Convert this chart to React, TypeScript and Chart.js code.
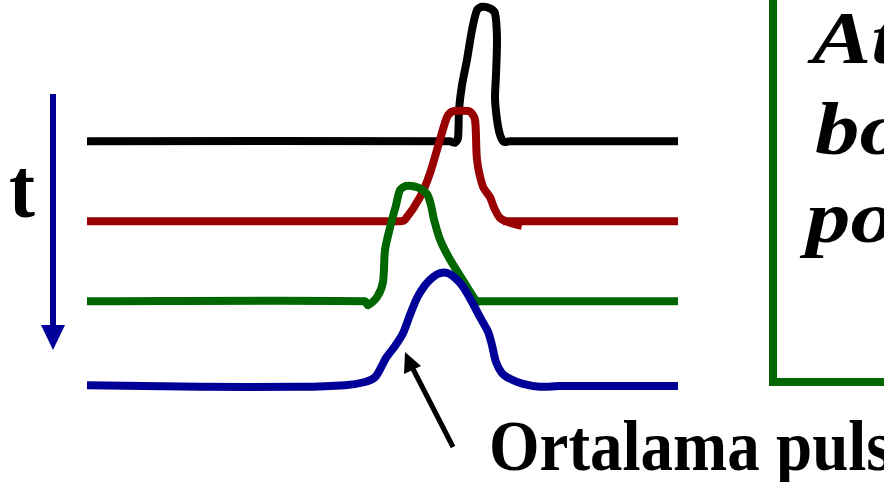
import React, { useEffect, useRef } from "react";
import { Chart, registerables } from "chart.js";

Chart.register(...registerables);

// time axis samples and trace levels (baseline offset of each trace + pulse)
const blackX = [87, 450, 455, 458, 459, 462, 467, 472, 477, 482, 490, 495, 497, 496, 495, 497, 500, 504, 510, 678];
const blackY = [3.06, 3.06, 3.04, 3.1, 3.45, 3.76, 4.08, 4.45, 4.7, 4.74, 4.72, 4.66, 4.33, 3.89, 3.6, 3.33, 3.14, 3.05, 3.06, 3.06];

const redX = [87, 400, 405, 420, 430, 440, 447, 452, 460, 470, 475, 477, 483, 490, 494, 500, 510, 522, NaN, 503, 678];
const redY = [2.06, 2.06, 2.08, 2.36, 2.66, 3.08, 3.36, 3.43, 3.44, 3.43, 3.33, 2.83, 2.49, 2.36, 2.23, 2.1, 2.04, 2.0, null, 2.06, 2.06];

const greenX = [87, 365, 368, 377, 383, 385, 390, 396, 400, 406, 418, 427, 431, 434, 440, 450, 467, 477, 480, 678];
const greenY = [1.06, 1.06, 1.01, 1.11, 1.3, 1.7, 1.98, 2.26, 2.45, 2.5, 2.48, 2.4, 2.26, 2.08, 1.83, 1.58, 1.24, 1.05, 1.06, 1.06];

const blueX = [87, 200, 300, 345, 365, 375, 381, 386, 395, 403, 410, 417, 425, 433, 440, 448, 456, 463, 472, 480, 488, 492, 496, 502, 510, 522, 540, 560, 678];
const blueY = [0.01, -0.01, -0.01, 0.01, 0.05, 0.11, 0.23, 0.35, 0.5, 0.66, 0.89, 1.1, 1.26, 1.36, 1.41, 1.41, 1.34, 1.24, 1.05, 0.86, 0.68, 0.51, 0.3, 0.16, 0.09, 0.03, -0.01, 0, 0];

const boxLines = ["At", "bo", "po"];
const timeLabel = "t";
const pulseLabel = "Ortalama puls";

const toPts = (xs: number[], ys: (number | null)[]) =>
  xs.map((x, i) => ({ x: isNaN(x) ? (xs[i - 1] as number) : x, y: ys[i] }));

const annotations = {
  id: "annotations",
  afterDraw(chart: any) {
    const ctx = chart.ctx as CanvasRenderingContext2D;
    ctx.save();
    // time arrow
    ctx.strokeStyle = "#000099";
    ctx.fillStyle = "#000099";
    ctx.lineWidth = 6;
    ctx.beginPath();
    ctx.moveTo(53, 94);
    ctx.lineTo(53, 330);
    ctx.stroke();
    ctx.beginPath();
    ctx.moveTo(41, 325);
    ctx.lineTo(65, 325);
    ctx.lineTo(53, 350);
    ctx.closePath();
    ctx.fill();

    // t label
    ctx.fillStyle = "#000";
    ctx.font = "bold 78px 'Liberation Serif', 'Times New Roman', serif";
    ctx.textBaseline = "alphabetic";
    ctx.save();
    ctx.translate(9, 217);
    ctx.scale(1, 1.08);
    ctx.fillText(timeLabel, 0, 0);
    ctx.restore();

    // green box
    ctx.strokeStyle = "#006600";
    ctx.lineWidth = 8;
    ctx.beginPath();
    ctx.moveTo(773, -10);
    ctx.lineTo(773, 382);
    ctx.lineTo(900, 382);
    ctx.stroke();

    ctx.fillStyle = "#000";
    ctx.font = "italic bold 74px 'Liberation Serif', 'Times New Roman', serif";
    const lx = [812, 815, 806];
    const ly = [63, 154, 242];
    boxLines.forEach((s, i) => {
      ctx.save();
      ctx.translate(lx[i], ly[i]);
      ctx.scale(1.2, 1);
      ctx.fillText(s, 0, 0);
      ctx.restore();
    });

    // pointer arrow
    ctx.strokeStyle = "#000";
    ctx.fillStyle = "#000";
    ctx.lineWidth = 5;
    ctx.beginPath();
    ctx.moveTo(453, 447);
    ctx.lineTo(411, 365);
    ctx.stroke();
    ctx.beginPath();
    ctx.moveTo(405, 352);
    ctx.lineTo(421, 366);
    ctx.lineTo(404, 374);
    ctx.closePath();
    ctx.fill();

    ctx.font = "bold 65px 'Liberation Serif', 'Times New Roman', serif";
    ctx.save();
    ctx.translate(489, 470);
    ctx.scale(1, 1.1);
    ctx.fillText(pulseLabel, 0, 0);
    ctx.restore();
    ctx.restore();
  },
};

export default function App() {
  const ref = useRef<HTMLCanvasElement>(null);
  useEffect(() => {
    if (!ref.current) return;
    const ds = (data: any, color: string) => ({
      data,
      borderColor: color,
      borderWidth: 8,
      pointRadius: 0,
      tension: 0.25,
      borderCapStyle: "butt" as const,
      borderJoinStyle: "round" as const,
      spanGaps: false,
      fill: false,
    });
    const chart = new Chart(ref.current, {
      type: "line",
      data: {
        datasets: [
          ds(toPts(blueX, blueY), "#000099"),
          ds(toPts(greenX, greenY), "#006600"),
          ds(toPts(redX, redY), "#990000"),
          ds(toPts(blackX, blackY), "#000000"),
        ],
      },
      options: {
        animation: false,
        responsive: false,
        devicePixelRatio: 1,
        layout: { padding: 0 },
        plugins: { legend: { display: false }, tooltip: { enabled: false } },
        scales: {
          x: { type: "linear", min: 0, max: 884, display: false },
          y: { type: "linear", min: -1.2, max: 4.825, display: false },
        },
      },
      plugins: [annotations],
    });
    return () => chart.destroy();
  }, []);
  return (
    <div style={{ position: "absolute", left: 0, top: 0, width: 884, height: 482, background: "#fff", overflow: "hidden" }}>
      <canvas ref={ref} width={884} height={482} style={{ display: "block" }} />
    </div>
  );
}
